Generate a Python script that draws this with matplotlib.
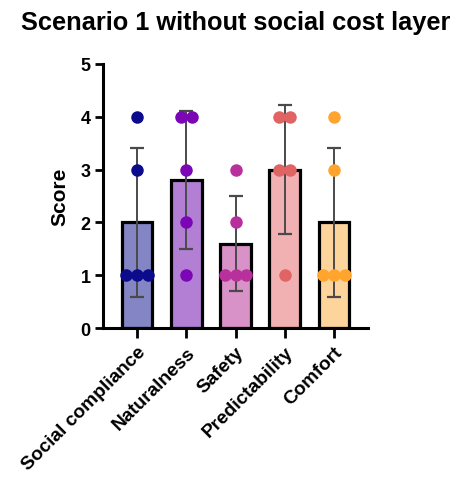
import numpy as np
import matplotlib
matplotlib.use("Agg")
import matplotlib.pyplot as plt

plt.rcParams['font.family'] = ['Liberation Sans', 'DejaVu Sans']
plt.rcParams['font.weight'] = 'bold'

categories = ["Social compliance", "Naturalness", "Safety", "Predictability", "Comfort"]
scores = {
    "Social compliance": [4, 3, 1, 1, 1],
    "Naturalness": [4, 4, 3, 2, 1],
    "Safety": [3, 2, 1, 1, 1],
    "Predictability": [4, 4, 3, 3, 1],
    "Comfort": [4, 3, 1, 1, 1],
}
bar_colors = ["#8385C4", "#B27FD4", "#D992C8", "#F1B0B2", "#FDD49C"]
dot_colors = ["#0B0B8C", "#7A06B5", "#B8309C", "#E16464", "#FFA52E"]
yticks = [0, 1, 2, 3, 4, 5]

fig = plt.figure(figsize=(4.55, 4.85), dpi=100)
ax = fig.add_axes([0.2264, 0.3216, 0.5824, 0.5444])

x = np.arange(len(categories))
means = [np.mean(scores[c]) for c in categories]
sds = [np.std(scores[c], ddof=1) for c in categories]

ax.bar(x, means, width=0.62, color=bar_colors, edgecolor="black",
       linewidth=2.3, zorder=2)
ax.errorbar(x, means, yerr=sds, fmt="none", ecolor="#4a4a4a",
            elinewidth=1.4, capsize=5.3, capthick=1.6, zorder=3)

# spread points sharing the same value side by side
step = 0.22
for i, c in enumerate(categories):
    vals = scores[c]
    uniq = sorted(set(vals))
    for v in uniq:
        n = vals.count(v)
        offs = (np.arange(n) - (n - 1) / 2) * step
        ax.plot(x[i] + offs, [v] * n, "o", color=dot_colors[i],
                markersize=9, markeredgewidth=0, zorder=4, clip_on=False)

ax.set_xlim(-0.69, 4.69)
ax.set_ylim(0, 5)
ax.set_yticks(yticks)
ax.set_xticks(x)
ax.set_xticklabels(categories, rotation=45, ha="right", rotation_mode="anchor",
                   fontsize=13.8, fontweight="bold")
ax.tick_params(axis="y", labelsize=13, width=2, length=6, pad=3)
ax.tick_params(axis="x", width=2, length=7, pad=4)
for lbl in ax.get_yticklabels():
    lbl.set_fontweight("bold")
for s in ["top", "right"]:
    ax.spines[s].set_visible(False)
for s in ["left", "bottom"]:
    ax.spines[s].set_linewidth(2.2)

ax.set_ylabel("Score", fontsize=15, fontweight="bold", labelpad=8)
fig.text(0.519, 0.953, "Scenario 1 without social cost layer", ha="center",
         va="center", fontsize=18.3, fontweight="bold")

fig.savefig("out.png", dpi=100)
